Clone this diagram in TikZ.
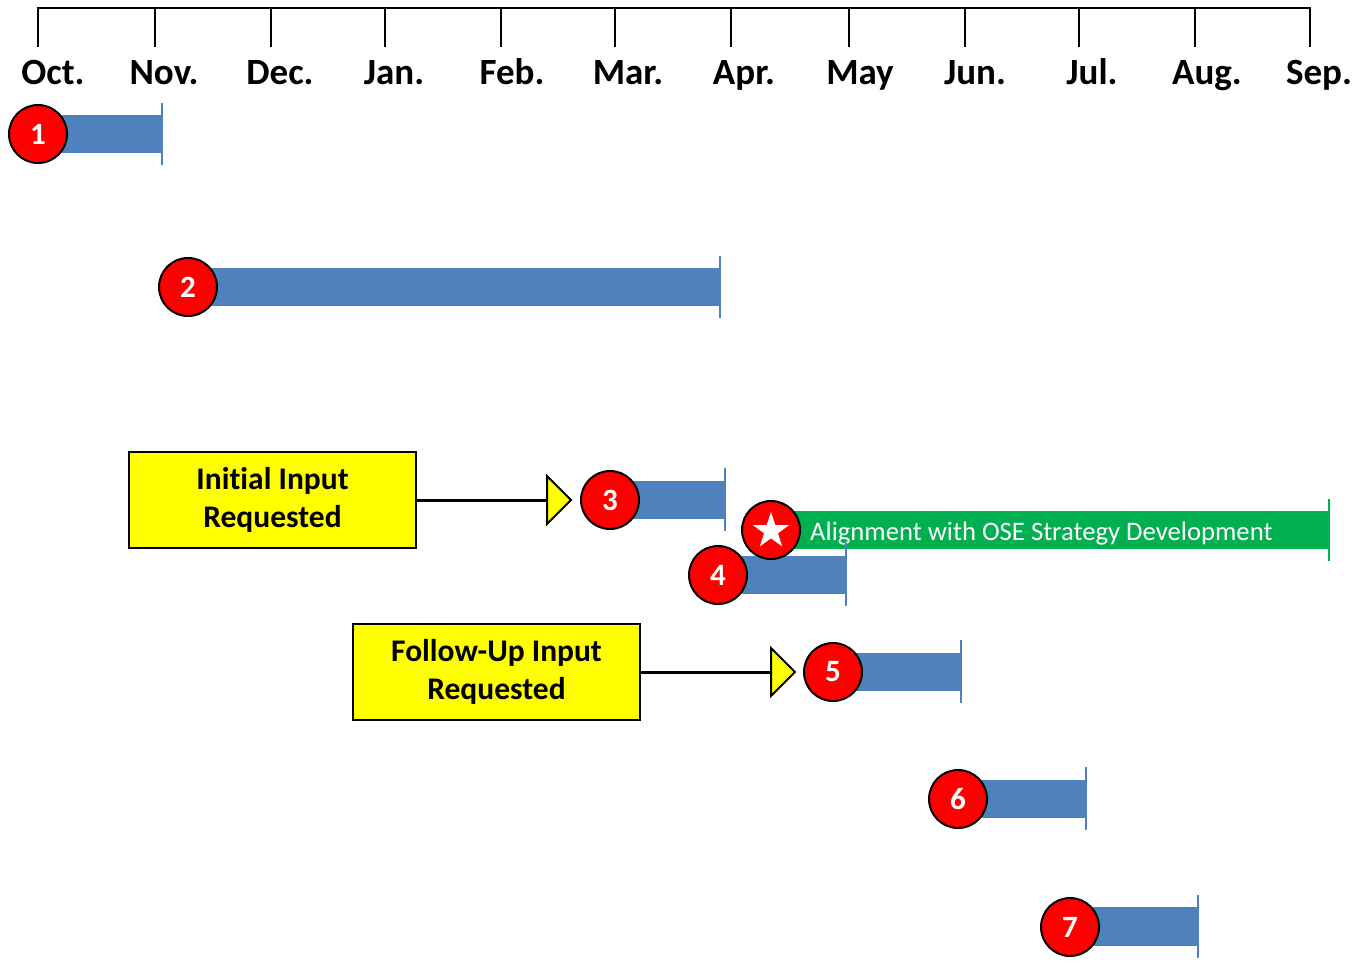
\documentclass[tikz,border=0pt]{standalone}
\usepackage{fontspec}
\setmainfont[Ligatures=CommonOff]{Carlito}
\usetikzlibrary{shapes.geometric}
\definecolor{barblue}{HTML}{4F81BD}
\definecolor{bargreen}{HTML}{00B050}
\definecolor{boxyellow}{HTML}{FFFF00}
\tikzset{
  axisline/.style={line width=2.8pt, black},
  monthlbl/.style={anchor=base, font=\bfseries\fontsize{37}{37}\selectfont, inner sep=0},
  numcirc/.style={circle, fill=red, draw=black, line width=2pt, minimum size=58pt, inner sep=0, text=white, font=\bfseries\fontsize{31}{31}\selectfont},
  barfill/.style={fill=barblue},
  barend/.style={draw=barblue, line width=2pt},
  greenend/.style={draw=bargreen, line width=2pt},
  inbox/.style={rectangle, draw=black, fill=boxyellow, line width=2.2pt, minimum width=287pt, minimum height=96pt, align=center, font=\bfseries\fontsize{31.5}{38}\selectfont},
  conn/.style={line width=3pt, black},
  tri/.style={fill=boxyellow, draw=black, line width=2pt, line join=miter},
}
\begin{document}
\begin{tikzpicture}[x=1pt,y=-1pt]
\useasboundingbox (0,0) rectangle (1370,962);
% timeline
\draw[axisline] (38,47) -- (38,8) -- (1310,8) -- (1310,47);
\foreach \x in {155,271,385,501,615,731,849,965,1079,1195}
  \draw[axisline] (\x,8) -- (\x,47);
\node[monthlbl] (m1) at (53,84) {Oct.};
\node[monthlbl] (m2) at (164,84) {Nov.};
\node[monthlbl] (m3) at (280,84) {Dec.};
\node[monthlbl] (m4) at (394,84) {Jan.};
\node[monthlbl] (m5) at (512,84) {Feb.};
\node[monthlbl] (m6) at (628,84) {Mar.};
\node[monthlbl] (m7) at (744,84) {Apr.};
\node[monthlbl] (m8) at (860,84) {May};
\node[monthlbl] (m9) at (975,84) {Jun.};
\node[monthlbl] (m10) at (1092,84) {Jul.};
\node[monthlbl] (m11) at (1207,84) {Aug.};
\node[monthlbl] (m12) at (1319,84) {Sep.};
% bars
\fill[barfill] (38,115) rectangle (162,153);
\draw[barend] (162,103) -- (162,165);
\fill[barfill] (188,268) rectangle (720,306);
\draw[barend] (720,256) -- (720,318);
\fill[barfill] (610,481) rectangle (725,519);
\draw[barend] (725,468) -- (725,531);
\fill[fill=bargreen] (771,511) rectangle (1329,549);
\draw[greenend] (1329,499) -- (1329,561);
\node[anchor=base west, text=white, font=\fontsize{26.7}{26.7}\selectfont, inner sep=0] (gt) at (810,540) {Alignment with OSE Strategy Development};
\fill[barfill] (718,556) rectangle (846,594);
\draw[barend] (846,543) -- (846,606);
\fill[barfill] (833,653) rectangle (961,691);
\draw[barend] (961,640) -- (961,703);
\fill[barfill] (958,780) rectangle (1086,818);
\draw[barend] (1086,767) -- (1086,830);
\fill[barfill] (1070,907) rectangle (1198,946);
\draw[barend] (1198,895) -- (1198,958);
% circles
\node[numcirc] (c1) at (38,134) {1};
\node[numcirc] (c2) at (188,287) {2};
\node[numcirc] (c3) at (610,500) {3};
\node[numcirc] (cs) at (771,530) {};
\node[star, star points=5, star point ratio=2.6, fill=white, minimum size=38pt, inner sep=0] (st) at (771,531) {};
\node[numcirc] (c4) at (718,575) {4};
\node[numcirc] (c5) at (833,672) {5};
\node[numcirc] (c6) at (958,799) {6};
\node[numcirc] (c7) at (1070,927) {7};
% input boxes
\node[inbox] (b1) at (272.5,500) {Initial Input\\Requested};
\node[inbox] (b2) at (496.5,672) {Follow-Up Input\\Requested};
\coordinate (t1) at (547,500);
\coordinate (t2) at (771,672);
\draw[conn] (b1.east) -- (t1);
\draw[conn] (b2.east) -- (t2);
\draw[tri] (547,476) -- (571,500) -- (547,524) -- cycle;
\draw[tri] (771,648) -- (795,672) -- (771,696) -- cycle;
\end{tikzpicture}
\end{document}
